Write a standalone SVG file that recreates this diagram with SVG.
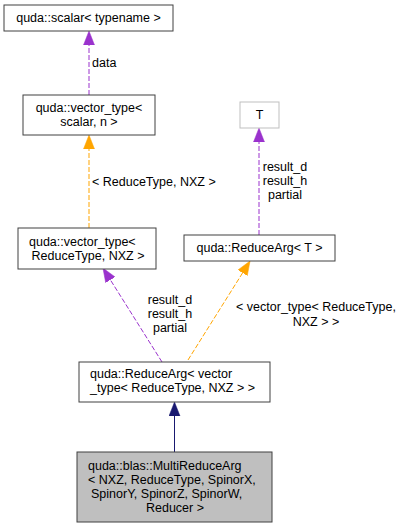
<svg xmlns="http://www.w3.org/2000/svg" width="404" height="528" viewBox="0 0 404 528">
<style>
text{font-family:"Liberation Sans",Arial,sans-serif;font-size:12.5px;fill:#000}
.n{fill:#fff;stroke:#404040;stroke-width:1}
.g{fill:#fff;stroke:#bfbfbf;stroke-width:1}
.cur{fill:#bfbfbf;stroke:#404040;stroke-width:1}
.m{text-anchor:middle}
.e{fill:none;stroke-width:1}
.d{stroke-dasharray:5,2}
.pu{stroke:#9a32cd}
.or{stroke:#ffa500}
.nv{stroke:#191970}
</style>
<defs>
<marker id="hp" markerUnits="userSpaceOnUse" markerWidth="15" markerHeight="12" viewBox="0 -6 15 12" refX="0" refY="0" orient="auto"><path d="M0,-5.5L14,0L0,5.5z" fill="#9a32cd" stroke="#9a32cd" stroke-width="0.5"/></marker>
<marker id="ho" markerUnits="userSpaceOnUse" markerWidth="15" markerHeight="12" viewBox="0 -6 15 12" refX="0" refY="0" orient="auto"><path d="M0,-5.5L14,0L0,5.5z" fill="#ffa500" stroke="#ffa500" stroke-width="0.5"/></marker>
<marker id="hn" markerUnits="userSpaceOnUse" markerWidth="15" markerHeight="12" viewBox="0 -6 15 12" refX="0" refY="0" orient="auto"><path d="M0,-5.5L14,0L0,5.5z" fill="#191970" stroke="#191970" stroke-width="0.5"/></marker>
</defs>
<g id="connectors">
<path class="e d pu" d="M89,95L89,45" marker-end="url(#hp)"/>
<text x="92" y="67">data</text>
<path class="e d or" d="M89,228L89,149" marker-end="url(#ho)"/>
<text x="92" y="186">&lt; ReduceType, NXZ &gt;</text>
<path class="e d pu" d="M259,235L259,142" marker-end="url(#hp)"/>
<text class="m" x="285" y="171">result_d</text>
<text class="m" x="285" y="185">result_h</text>
<text class="m" x="285" y="199">partial</text>
<path class="e d pu" d="M162,362L110.4,279.9" marker-end="url(#hp)"/>
<text class="m" x="170" y="304">result_d</text>
<text class="m" x="170" y="318">result_h</text>
<text class="m" x="170" y="332">partial</text>
<path class="e d or" d="M188,360L242.6,272.9" marker-end="url(#ho)"/>
<text class="m" x="316" y="311">&lt; vector_type&lt; ReduceType,</text>
<text class="m" x="316" y="326">NXZ &gt; &gt;</text>
<path class="e nv" d="M174.5,452L174.5,416" marker-end="url(#hn)"/>
</g>
<g id="node_scalar">
<rect class="n" x="4" y="5" width="169" height="26"/>
<text class="m" x="88.5" y="22">quda::scalar&lt; typename &gt;</text>
</g>
<g id="node_vector_type_scalar">
<rect class="n" x="23" y="95" width="132" height="40"/>
<text class="m" x="89" y="112">quda::vector_type&lt;</text>
<text class="m" x="89" y="126">scalar, n &gt;</text>
</g>
<g id="node_T">
<rect class="g" x="240" y="102" width="39" height="26"/>
<text class="m" x="259.5" y="119">T</text>
</g>
<g id="node_vector_type_reduce">
<rect class="n" x="18" y="228" width="138" height="41"/>
<text x="29" y="246">quda::vector_type&lt;</text>
<text class="m" x="88" y="260">ReduceType, NXZ &gt;</text>
</g>
<g id="node_ReduceArg_T">
<rect class="n" x="184" y="235" width="151" height="26"/>
<text class="m" x="259.5" y="252">quda::ReduceArg&lt; T &gt;</text>
</g>
<g id="node_ReduceArg_vector">
<rect class="n" x="79" y="362" width="191" height="40"/>
<text x="90" y="378">quda::ReduceArg&lt; vector</text>
<text x="90" y="392">_type&lt; ReduceType, NXZ &gt; &gt;</text>
</g>
<g id="node_MultiReduceArg">
<rect class="cur" x="77" y="452" width="195" height="70"/>
<text x="88" y="470">quda::blas::MultiReduceArg</text>
<text x="88" y="484">&lt; NXZ, ReduceType, SpinorX,</text>
<text x="91" y="498">SpinorY, SpinorZ, SpinorW,</text>
<text class="m" x="175" y="512">Reducer &gt;</text>
</g>
</svg>
